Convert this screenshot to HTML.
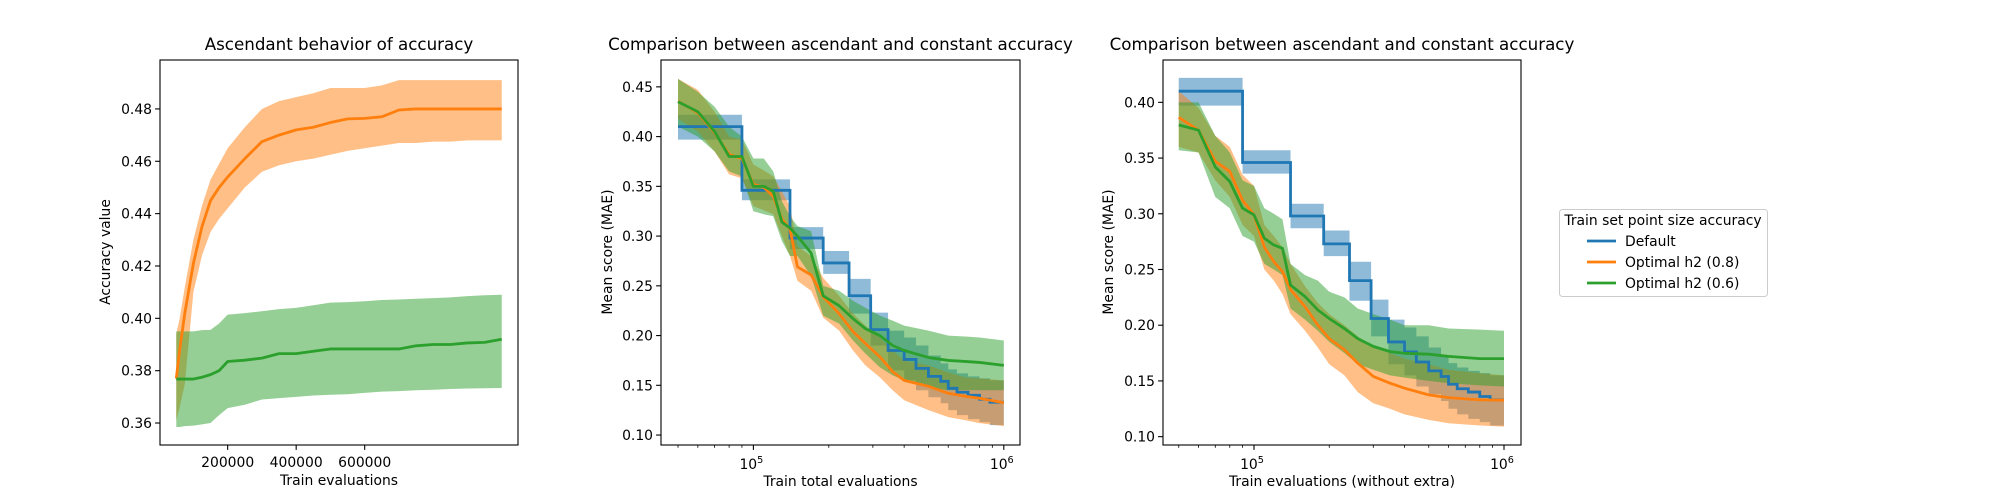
<!DOCTYPE html>
<html><head><meta charset="utf-8">
<style>
html,body{margin:0;padding:0;background:#fff;}
svg{display:block;font-family:"DejaVu Sans","Liberation Sans",sans-serif;}
</style></head>
<body>
<svg id="fig" width="2000" height="500" viewBox="0 0 2000 500" xmlns="http://www.w3.org/2000/svg"></svg>
<script>
// ---------- Panel 1 data ----------
const p1X = [50000,60000,75000,100000,125000,150000,175000,200000,250000,300000,350000,400000,450000,500000,550000,600000,650000,700000,750000,800000,850000,900000,950000,1000000];
const p1OrangeMean = [0.377,0.388,0.402,0.421,0.435,0.445,0.450,0.454,0.461,0.4675,0.470,0.472,0.473,0.4748,0.4762,0.4764,0.477,0.4796,0.480,0.480,0.480,0.480,0.480,0.480];
const p1OrangeHi = [0.394,0.400,0.412,0.430,0.443,0.453,0.459,0.465,0.473,0.480,0.483,0.4845,0.486,0.488,0.488,0.488,0.489,0.491,0.491,0.491,0.491,0.491,0.491,0.491];
const p1OrangeLo = [0.361,0.366,0.375,0.410,0.424,0.433,0.438,0.442,0.450,0.456,0.4585,0.460,0.461,0.4625,0.464,0.465,0.466,0.467,0.467,0.4675,0.4675,0.468,0.468,0.468];
const p1GreenMean = [0.3768,0.3768,0.3768,0.3768,0.3775,0.3785,0.380,0.3835,0.384,0.3848,0.3865,0.3865,0.3874,0.3883,0.3883,0.3883,0.3883,0.3883,0.3895,0.390,0.390,0.3906,0.3908,0.392];
const p1GreenHi = [0.395,0.395,0.395,0.395,0.3955,0.3956,0.398,0.4014,0.402,0.4027,0.4035,0.404,0.405,0.406,0.4062,0.4065,0.407,0.4072,0.4075,0.4077,0.408,0.4085,0.4088,0.409];
const p1GreenLo = [0.3585,0.3585,0.3588,0.359,0.3595,0.360,0.363,0.3657,0.367,0.369,0.3695,0.370,0.3705,0.3708,0.371,0.3715,0.372,0.3722,0.3725,0.3727,0.373,0.3732,0.3733,0.3734];
const p1YTicks = [0.36,0.38,0.40,0.42,0.44,0.46,0.48];
const p1XTicks = [200000,400000,600000];

// ---------- Default (blue) steps, shared by panels 2 and 3 ----------
const blueStepX = [50000,90000,140000,190000,241000,294000,345000,400000,446000,500000,560000,600000,650000,720000,800000,880000,1000000];
const blueMean = [0.410,0.346,0.298,0.273,0.240,0.206,0.185,0.176,0.167,0.159,0.154,0.147,0.143,0.140,0.136,0.133];
const blueLo = [0.397,0.336,0.287,0.262,0.222,0.190,0.165,0.155,0.145,0.138,0.132,0.125,0.120,0.116,0.113,0.110];
const blueHi = [0.422,0.357,0.309,0.285,0.257,0.223,0.205,0.198,0.190,0.180,0.172,0.166,0.162,0.159,0.157,0.155];

// ---------- Panel 2 data ----------
const p2X = [50000,60000,70000,80000,90000,100000,110000,120000,130000,140000,150000,170000,190000,220000,250000,280000,320000,360000,400000,500000,600000,700000,800000,1000000];
const p2OrangeMean = [0.4356,0.424,0.404,0.382,0.378,0.352,0.349,0.340,0.317,0.307,0.269,0.261,0.239,0.222,0.204,0.192,0.1786,0.1637,0.155,0.149,0.142,0.139,0.137,0.1325];
const p2OrangeLo = [0.418,0.405,0.385,0.362,0.358,0.330,0.326,0.322,0.300,0.280,0.255,0.245,0.218,0.205,0.185,0.170,0.158,0.145,0.135,0.125,0.118,0.115,0.112,0.109];
const p2OrangeHi = [0.458,0.447,0.425,0.400,0.397,0.372,0.366,0.360,0.345,0.330,0.290,0.280,0.258,0.240,0.222,0.210,0.198,0.185,0.175,0.170,0.163,0.158,0.157,0.155];
const p2GreenMean = [0.435,0.425,0.405,0.380,0.380,0.350,0.350,0.345,0.314,0.308,0.300,0.283,0.240,0.230,0.217,0.207,0.200,0.190,0.185,0.178,0.175,0.174,0.173,0.170];
const p2GreenLo = [0.410,0.400,0.385,0.365,0.360,0.325,0.322,0.320,0.295,0.280,0.280,0.260,0.220,0.212,0.195,0.182,0.168,0.160,0.155,0.148,0.145,0.145,0.145,0.145];
const p2GreenHi = [0.458,0.445,0.430,0.410,0.400,0.378,0.378,0.365,0.335,0.320,0.310,0.305,0.250,0.245,0.235,0.228,0.220,0.215,0.210,0.205,0.200,0.199,0.198,0.195];
const p2YTicks = [0.10,0.15,0.20,0.25,0.30,0.35,0.40,0.45];

// ---------- Panel 3 data ----------
const p3X = [50000,60000,70000,80000,90000,100000,110000,120000,130000,140000,160000,180000,200000,230000,260000,300000,350000,400000,500000,600000,800000,1000000];
const p3OrangeMean = [0.3865,0.375,0.347,0.338,0.312,0.299,0.270,0.257,0.248,0.232,0.2167,0.200,0.188,0.178,0.166,0.154,0.148,0.1435,0.1375,0.135,0.133,0.1327];
const p3OrangeLo = [0.360,0.355,0.330,0.315,0.290,0.280,0.250,0.240,0.228,0.210,0.195,0.180,0.165,0.155,0.140,0.130,0.125,0.120,0.115,0.112,0.110,0.109];
const p3OrangeHi = [0.410,0.395,0.370,0.360,0.335,0.325,0.290,0.280,0.270,0.255,0.235,0.220,0.210,0.200,0.190,0.180,0.175,0.170,0.165,0.160,0.157,0.155];
const p3GreenMean = [0.3797,0.375,0.342,0.329,0.305,0.299,0.278,0.272,0.269,0.236,0.2257,0.2137,0.206,0.197,0.188,0.181,0.1763,0.1748,0.174,0.172,0.170,0.170];
const p3GreenLo = [0.357,0.355,0.315,0.305,0.280,0.275,0.255,0.250,0.245,0.215,0.205,0.195,0.185,0.175,0.165,0.160,0.155,0.153,0.150,0.148,0.146,0.145];
const p3GreenHi = [0.400,0.400,0.370,0.355,0.330,0.325,0.305,0.300,0.295,0.255,0.245,0.240,0.230,0.225,0.215,0.210,0.205,0.200,0.200,0.197,0.196,0.195];
const p3YTicks = [0.10,0.15,0.20,0.25,0.30,0.35,0.40];

const logMajor = [100000,1000000];
const logMinor = [50000,60000,70000,80000,90000,200000,300000,400000,500000,600000,700000,800000,900000];
const legendLabels = ["Default","Optimal h2 (0.8)","Optimal h2 (0.6)"];

const C = {blue:"#1f77b4", orange:"#ff7f0e", green:"#2ca02c"};
const NS = "http://www.w3.org/2000/svg";
const svg = document.getElementById("fig");
function el(tag, attrs, parent){
  const e = document.createElementNS(NS, tag);
  for (const k in attrs) e.setAttribute(k, attrs[k]);
  (parent||svg).appendChild(e);
  return e;
}
function linScale(d0,d1,r0,r1){return v => r0 + (v-d0)/(d1-d0)*(r1-r0);}
function logScale(d0,d1,r0,r1){const a=Math.log10(d0),b=Math.log10(d1);return v => r0 + (Math.log10(v)-a)/(b-a)*(r1-r0);}

function band(g, xs, lo, hi, sx, sy, color, name){
  let d = "M" + xs.map((x,i)=>sx(x).toFixed(2)+","+sy(hi[i]).toFixed(2)).join("L");
  for (let i=xs.length-1;i>=0;i--) d += "L"+sx(xs[i]).toFixed(2)+","+sy(lo[i]).toFixed(2);
  d += "Z";
  const p = el("path",{d:d, fill:color, "fill-opacity":0.5, stroke:"none"}, g);
  
  
}
function line(g, xs, ys, sx, sy, color, name){
  const d = "M" + xs.map((x,i)=>sx(x).toFixed(2)+","+sy(ys[i]).toFixed(2)).join("L");
  const p = el("path",{d:d, fill:"none", stroke:color, "stroke-width":2.8, "stroke-linejoin":"round"}, g);
  
  
}
function stepBand(g, sx, sy, name){
  let d = "";
  for (let i=0;i<blueMean.length;i++){
    const x0=sx(blueStepX[i]), x1=sx(blueStepX[i+1]);
    d += "M"+x0+","+sy(blueHi[i])+"L"+x1+","+sy(blueHi[i])+"L"+x1+","+sy(blueLo[i])+"L"+x0+","+sy(blueLo[i])+"Z";
  }
  const p = el("path",{d:d, fill:C.blue, "fill-opacity":0.5}, g);
  
  
}
function stepLine(g, sx, sy, name){
  let d = "M"+sx(blueStepX[0])+","+sy(blueMean[0]);
  for (let i=0;i<blueMean.length;i++){
    d += "L"+sx(blueStepX[i+1])+","+sy(blueMean[i]);
    if (i+1<blueMean.length) d += "L"+sx(blueStepX[i+1])+","+sy(blueMean[i+1]);
  }
  const p = el("path",{d:d, fill:"none", stroke:C.blue, "stroke-width":2.8}, g);
  
  
}
function frame(g, L,R,T,B){
  const r = el("rect",{x:L,y:T,width:R-L,height:B-T,fill:"none",stroke:"#000","stroke-width":1.1}, g);
  
  
}
function yAxis(g, ticks, sy, L, dec){
  ticks.forEach(v=>{
    const y = sy(v);
    el("line",{x1:L-4.9,x2:L,y1:y,y2:y,stroke:"#000","stroke-width":1.1}, g);
    const t = el("text",{x:L-8,y:y+5,"text-anchor":"end","font-size":"13.9px",fill:"#000"}, g);
    t.textContent = v.toFixed(dec);
    
    
  });
}
function text(g, x, y, s, size, name, rot){
  const a = {x:x,y:y,"text-anchor":"middle","font-size":size,fill:"#000"};
  if (rot) a.transform = "rotate(-90 "+x+" "+y+")";
  const t = el("text", a, g);
  t.textContent = s;
  
  
  return t;
}
function logXAxis(g, sx, B){
  logMinor.forEach(v=>{ const x=sx(v); el("line",{x1:x,x2:x,y1:B,y2:B+2.8,stroke:"#000","stroke-width":0.8}, g); });
  logMajor.forEach(v=>{
    const x=sx(v);
    el("line",{x1:x,x2:x,y1:B,y2:B+4.9,stroke:"#000","stroke-width":1.1}, g);
    const t = el("text",{x:x-2,y:B+24,"text-anchor":"middle","font-size":"13.9px",fill:"#000"}, g);
    
    
    t.textContent = "10";
    const s = el("tspan",{dy:-6,"font-size":"9.7px"}, t);
    s.textContent = String(Math.round(Math.log10(v)));
  });
}

// ---------- Panel 1 ----------
(function(){
  const L=160,R=518,T=60,B=445;
  const g = el("g",{});
  
  
  const sx = linScale(2500,1047500,L,R);
  const sy = linScale(0.3516,0.4987,B,T);
  band(g,p1X,p1OrangeLo,p1OrangeHi,sx,sy,C.orange,'orange-band');
  band(g,p1X,p1GreenLo,p1GreenHi,sx,sy,C.green,'green-band');
  line(g,p1X,p1OrangeMean,sx,sy,C.orange,'orange-line');
  line(g,p1X,p1GreenMean,sx,sy,C.green,'green-line');
  frame(g,L,R,T,B);
  yAxis(g,p1YTicks,sy,L,2);
  p1XTicks.forEach(v=>{
    const x=sx(v);
    el("line",{x1:x,x2:x,y1:B,y2:B+4.9,stroke:"#000","stroke-width":1.1}, g);
    text(g,x,B+22,String(v),"13.9px",'x-tick-label');
  });
  text(g,(L+R)/2,50,"Ascendant behavior of accuracy","16.7px",'chart-title');
  text(g,(L+R)/2,485,"Train evaluations","13.9px",'x-axis-title');
  text(g,110,252,"Accuracy value","13.9px",'y-axis-title',true);
})();

// ---------- Panel 2 ----------
(function(){
  const L=661,R=1020,T=60,B=445;
  const g = el("g",{});
  
  
  const sx = logScale(100000,1000000,753.4,1003.8);
  const sy = linScale(0.090,0.477,B,T);
  stepBand(g,sx,sy,'default-band');
  band(g,p2X,p2OrangeLo,p2OrangeHi,sx,sy,C.orange,'orange-band');
  band(g,p2X,p2GreenLo,p2GreenHi,sx,sy,C.green,'green-band');
  stepLine(g,sx,sy,'default-line');
  line(g,p2X,p2OrangeMean,sx,sy,C.orange,'orange-line');
  line(g,p2X,p2GreenMean,sx,sy,C.green,'green-line');
  frame(g,L,R,T,B);
  yAxis(g,p2YTicks,sy,L,2);
  logXAxis(g,sx,B);
  text(g,(L+R)/2,50,"Comparison between ascendant and constant accuracy","16.7px",'chart-title');
  text(g,(L+R)/2,486,"Train total evaluations","13.9px",'x-axis-title');
  text(g,612,252,"Mean score (MAE)","13.9px",'y-axis-title',true);
})();

// ---------- Panel 3 ----------
(function(){
  const L=1163,R=1521,T=60,B=445;
  const g = el("g",{});
  
  
  const sx = logScale(100000,1000000,1254,1504);
  const sy = linScale(0.0925,0.438,B,T);
  stepBand(g,sx,sy,'default-band');
  band(g,p3X,p3OrangeLo,p3OrangeHi,sx,sy,C.orange,'orange-band');
  band(g,p3X,p3GreenLo,p3GreenHi,sx,sy,C.green,'green-band');
  stepLine(g,sx,sy,'default-line');
  line(g,p3X,p3OrangeMean,sx,sy,C.orange,'orange-line');
  line(g,p3X,p3GreenMean,sx,sy,C.green,'green-line');
  frame(g,L,R,T,B);
  yAxis(g,p3YTicks,sy,L,2);
  logXAxis(g,sx,B);
  text(g,(L+R)/2,50,"Comparison between ascendant and constant accuracy","16.7px",'chart-title');
  text(g,(L+R)/2,486,"Train evaluations (without extra)","13.9px",'x-axis-title');
  text(g,1113,252,"Mean score (MAE)","13.9px",'y-axis-title',true);
})();

// ---------- Legend ----------
(function(){
  const g = el("g",{});
  
  
  const box = el("rect",{x:1559.5,y:209.5,width:208,height:87,rx:3,fill:"#fff",stroke:"#ccc","stroke-width":1}, g);
  
  
  const tt = el("text",{x:1663,y:225,"text-anchor":"middle","font-size":"13.9px",fill:"#000"}, g);
  tt.textContent = "Train set point size accuracy";
  
  
  const cols = [C.blue,C.orange,C.green];
  legendLabels.forEach((lab,i)=>{
    const y = 241 + i*21;
    const ln = el("line",{x1:1587,x2:1616,y1:y,y2:y,stroke:cols[i],"stroke-width":2.8}, g);
    
    
    const t = el("text",{x:1625,y:y+5,"font-size":"13.9px",fill:"#000"}, g);
    t.textContent = lab;
    
    
  });
})();
</script>
</body></html>
